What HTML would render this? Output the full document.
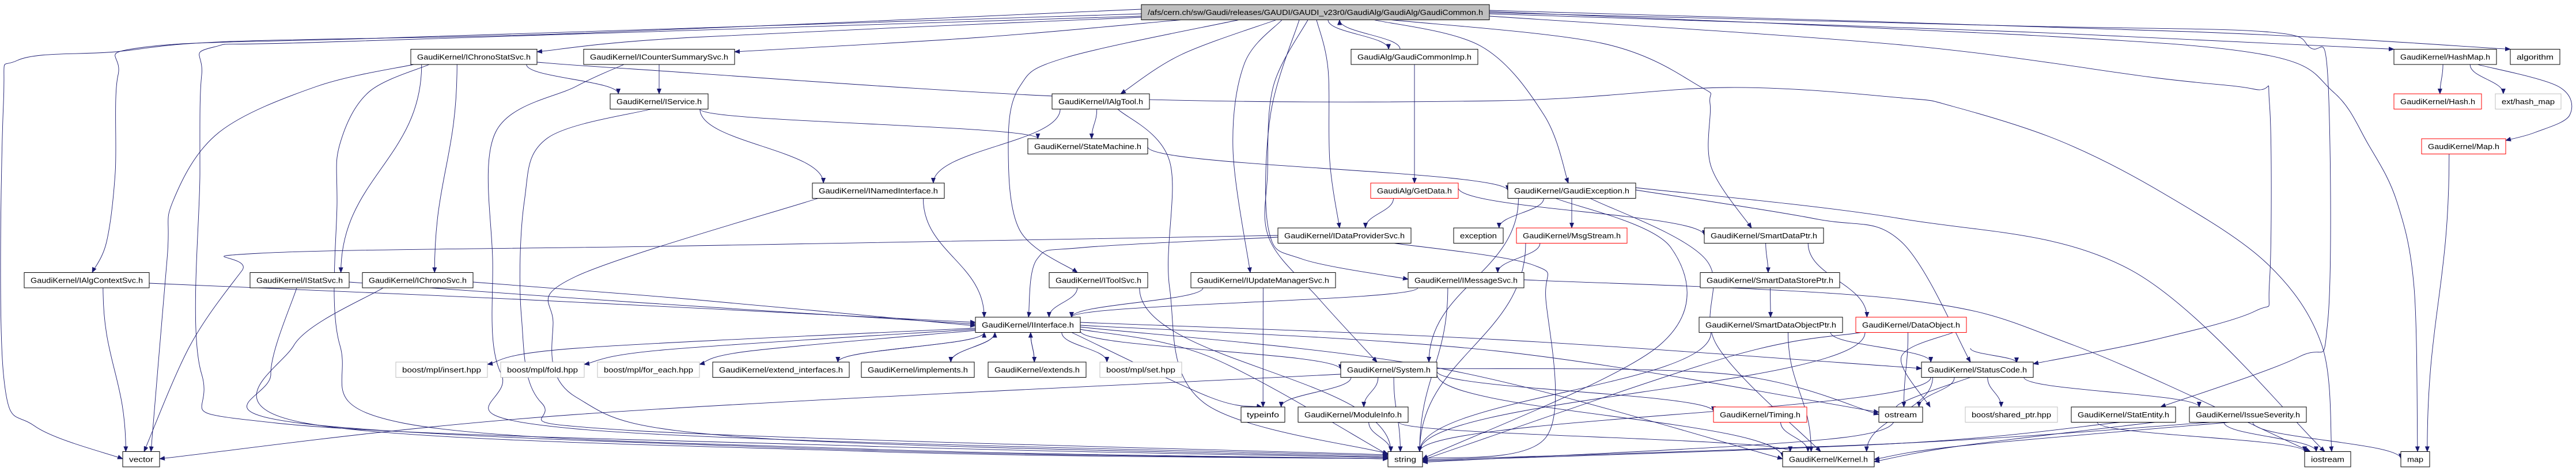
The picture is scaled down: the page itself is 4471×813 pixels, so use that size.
<!DOCTYPE html>
<html><head><meta charset="utf-8"><style>
html,body{margin:0;padding:0;background:#fff}
svg{display:block}
text{font-family:"Liberation Sans",sans-serif;font-size:13px;fill:#000}
</style></head><body>
<svg id="g" width="4471" height="813" viewBox="0 0 4471 813" xmlns="http://www.w3.org/2000/svg">
<defs><marker id="a" markerWidth="10" markerHeight="8" refX="9" refY="4" orient="auto" markerUnits="userSpaceOnUse"><path d="M0,0L10,4L0,8z" fill="#191970"/></marker></defs>
<g id="edges" fill="none" stroke="#191970" stroke-width="0.9"></g>
<g id="nodes">
<rect x="1981" y="8" width="604" height="26.5" fill="#bfbfbf" stroke="#000"/><text x="1992" y="26" textLength="582" lengthAdjust="spacingAndGlyphs">/afs/cern.ch/sw/Gaudi/releases/GAUDI/GAUDI_v23r0/GaudiAlg/GaudiAlg/GaudiCommon.h</text>
<rect x="713" y="85.5" width="219" height="26.5" fill="#fff" stroke="#000"/><text x="724" y="103.5" textLength="197" lengthAdjust="spacingAndGlyphs">GaudiKernel/IChronoStatSvc.h</text>
<rect x="1013" y="85.5" width="262" height="26.5" fill="#fff" stroke="#000"/><text x="1024" y="103.5" textLength="240" lengthAdjust="spacingAndGlyphs">GaudiKernel/ICounterSummarySvc.h</text>
<rect x="2345" y="85.5" width="220" height="26.5" fill="#fff" stroke="#000"/><text x="2356" y="103.5" textLength="198" lengthAdjust="spacingAndGlyphs">GaudiAlg/GaudiCommonImp.h</text>
<rect x="4155" y="85.5" width="178" height="26.5" fill="#fff" stroke="#000"/><text x="4166" y="103.5" textLength="156" lengthAdjust="spacingAndGlyphs">GaudiKernel/HashMap.h</text>
<rect x="4357" y="85.5" width="86" height="26.5" fill="#fff" stroke="#000"/><text x="4368" y="103.5" textLength="64" lengthAdjust="spacingAndGlyphs">algorithm</text>
<rect x="1059" y="163" width="170" height="26.5" fill="#fff" stroke="#000"/><text x="1070" y="181" textLength="148" lengthAdjust="spacingAndGlyphs">GaudiKernel/IService.h</text>
<rect x="1826" y="163" width="169" height="26.5" fill="#fff" stroke="#000"/><text x="1837" y="181" textLength="147" lengthAdjust="spacingAndGlyphs">GaudiKernel/IAlgTool.h</text>
<rect x="4155" y="163" width="152" height="26.5" fill="#fff" stroke="#f00"/><text x="4166" y="181" textLength="130" lengthAdjust="spacingAndGlyphs">GaudiKernel/Hash.h</text>
<rect x="4331" y="163" width="114" height="26.5" fill="#fff" stroke="#bfbfbf"/><text x="4342" y="181" textLength="92" lengthAdjust="spacingAndGlyphs">ext/hash_map</text>
<rect x="1784" y="241" width="208" height="26.5" fill="#fff" stroke="#000"/><text x="1795" y="259" textLength="186" lengthAdjust="spacingAndGlyphs">GaudiKernel/StateMachine.h</text>
<rect x="4203" y="241" width="146" height="26.5" fill="#fff" stroke="#f00"/><text x="4214" y="259" textLength="124" lengthAdjust="spacingAndGlyphs">GaudiKernel/Map.h</text>
<rect x="1410" y="318" width="229" height="26.5" fill="#fff" stroke="#000"/><text x="1421" y="336" textLength="207" lengthAdjust="spacingAndGlyphs">GaudiKernel/INamedInterface.h</text>
<rect x="2379" y="318" width="152" height="26.5" fill="#fff" stroke="#f00"/><text x="2390" y="336" textLength="130" lengthAdjust="spacingAndGlyphs">GaudiAlg/GetData.h</text>
<rect x="2617" y="318" width="222" height="26.5" fill="#fff" stroke="#000"/><text x="2628" y="336" textLength="200" lengthAdjust="spacingAndGlyphs">GaudiKernel/GaudiException.h</text>
<rect x="2218" y="396" width="231" height="26.5" fill="#fff" stroke="#000"/><text x="2229" y="414" textLength="209" lengthAdjust="spacingAndGlyphs">GaudiKernel/IDataProviderSvc.h</text>
<rect x="2523" y="396" width="86" height="26.5" fill="#fff" stroke="#000"/><text x="2534" y="414" textLength="64" lengthAdjust="spacingAndGlyphs">exception</text>
<rect x="2632" y="396" width="192" height="26.5" fill="#fff" stroke="#f00"/><text x="2643" y="414" textLength="170" lengthAdjust="spacingAndGlyphs">GaudiKernel/MsgStream.h</text>
<rect x="2958" y="396" width="207" height="26.5" fill="#fff" stroke="#000"/><text x="2969" y="414" textLength="185" lengthAdjust="spacingAndGlyphs">GaudiKernel/SmartDataPtr.h</text>
<rect x="42" y="473.5" width="217" height="26.5" fill="#fff" stroke="#000"/><text x="53" y="491.5" textLength="195" lengthAdjust="spacingAndGlyphs">GaudiKernel/IAlgContextSvc.h</text>
<rect x="434" y="473.5" width="172" height="26.5" fill="#fff" stroke="#000"/><text x="445" y="491.5" textLength="150" lengthAdjust="spacingAndGlyphs">GaudiKernel/IStatSvc.h</text>
<rect x="629" y="473.5" width="192" height="26.5" fill="#fff" stroke="#000"/><text x="640" y="491.5" textLength="170" lengthAdjust="spacingAndGlyphs">GaudiKernel/IChronoSvc.h</text>
<rect x="1821" y="473.5" width="171" height="26.5" fill="#fff" stroke="#000"/><text x="1832" y="491.5" textLength="149" lengthAdjust="spacingAndGlyphs">GaudiKernel/IToolSvc.h</text>
<rect x="2067" y="473.5" width="251" height="26.5" fill="#fff" stroke="#000"/><text x="2078" y="491.5" textLength="229" lengthAdjust="spacingAndGlyphs">GaudiKernel/IUpdateManagerSvc.h</text>
<rect x="2444" y="473.5" width="201" height="26.5" fill="#fff" stroke="#000"/><text x="2455" y="491.5" textLength="179" lengthAdjust="spacingAndGlyphs">GaudiKernel/IMessageSvc.h</text>
<rect x="2951" y="473.5" width="242" height="26.5" fill="#fff" stroke="#000"/><text x="2962" y="491.5" textLength="220" lengthAdjust="spacingAndGlyphs">GaudiKernel/SmartDataStorePtr.h</text>
<rect x="1693" y="551" width="182" height="26.5" fill="#fff" stroke="#000"/><text x="1704" y="569" textLength="160" lengthAdjust="spacingAndGlyphs">GaudiKernel/IInterface.h</text>
<rect x="2949" y="551" width="249" height="26.5" fill="#fff" stroke="#000"/><text x="2960" y="569" textLength="227" lengthAdjust="spacingAndGlyphs">GaudiKernel/SmartDataObjectPtr.h</text>
<rect x="3221" y="551" width="192" height="26.5" fill="#fff" stroke="#f00"/><text x="3232" y="569" textLength="170" lengthAdjust="spacingAndGlyphs">GaudiKernel/DataObject.h</text>
<rect x="687" y="629" width="159" height="26.5" fill="#fff" stroke="#bfbfbf"/><text x="698" y="647" textLength="137" lengthAdjust="spacingAndGlyphs">boost/mpl/insert.hpp</text>
<rect x="869" y="629" width="145" height="26.5" fill="#fff" stroke="#bfbfbf"/><text x="880" y="647" textLength="123" lengthAdjust="spacingAndGlyphs">boost/mpl/fold.hpp</text>
<rect x="1037" y="629" width="177" height="26.5" fill="#fff" stroke="#bfbfbf"/><text x="1048" y="647" textLength="155" lengthAdjust="spacingAndGlyphs">boost/mpl/for_each.hpp</text>
<rect x="1237" y="629" width="237" height="26.5" fill="#fff" stroke="#000"/><text x="1248" y="647" textLength="215" lengthAdjust="spacingAndGlyphs">GaudiKernel/extend_interfaces.h</text>
<rect x="1495" y="629" width="196" height="26.5" fill="#fff" stroke="#000"/><text x="1506" y="647" textLength="174" lengthAdjust="spacingAndGlyphs">GaudiKernel/implements.h</text>
<rect x="1715" y="629" width="170" height="26.5" fill="#fff" stroke="#000"/><text x="1726" y="647" textLength="148" lengthAdjust="spacingAndGlyphs">GaudiKernel/extends.h</text>
<rect x="1909" y="629" width="142" height="26.5" fill="#fff" stroke="#bfbfbf"/><text x="1920" y="647" textLength="120" lengthAdjust="spacingAndGlyphs">boost/mpl/set.hpp</text>
<rect x="2327" y="629" width="167" height="26.5" fill="#fff" stroke="#000"/><text x="2338" y="647" textLength="145" lengthAdjust="spacingAndGlyphs">GaudiKernel/System.h</text>
<rect x="3335" y="629" width="194" height="26.5" fill="#fff" stroke="#000"/><text x="3346" y="647" textLength="172" lengthAdjust="spacingAndGlyphs">GaudiKernel/StatusCode.h</text>
<rect x="2154" y="707" width="76" height="26.5" fill="#fff" stroke="#000"/><text x="2164" y="725" textLength="56" lengthAdjust="spacingAndGlyphs">typeinfo</text>
<rect x="2253" y="707" width="191" height="26.5" fill="#fff" stroke="#000"/><text x="2264" y="725" textLength="169" lengthAdjust="spacingAndGlyphs">GaudiKernel/ModuleInfo.h</text>
<rect x="2974" y="707" width="162" height="26.5" fill="#fff" stroke="#f00"/><text x="2985" y="725" textLength="140" lengthAdjust="spacingAndGlyphs">GaudiKernel/Timing.h</text>
<rect x="3261" y="707" width="76" height="26.5" fill="#fff" stroke="#000"/><text x="3271" y="725" textLength="56" lengthAdjust="spacingAndGlyphs">ostream</text>
<rect x="3411" y="707" width="160" height="26.5" fill="#fff" stroke="#bfbfbf"/><text x="3422" y="725" textLength="138" lengthAdjust="spacingAndGlyphs">boost/shared_ptr.hpp</text>
<rect x="3595" y="707" width="181" height="26.5" fill="#fff" stroke="#000"/><text x="3606" y="725" textLength="159" lengthAdjust="spacingAndGlyphs">GaudiKernel/StatEntity.h</text>
<rect x="3800" y="707" width="203" height="26.5" fill="#fff" stroke="#000"/><text x="3811" y="725" textLength="181" lengthAdjust="spacingAndGlyphs">GaudiKernel/IssueSeverity.h</text>
<rect x="213" y="784.5" width="64" height="26.5" fill="#fff" stroke="#000"/><text x="224" y="802.5" textLength="42" lengthAdjust="spacingAndGlyphs">vector</text>
<rect x="2409" y="784.5" width="60" height="26.5" fill="#fff" stroke="#000"/><text x="2420" y="802.5" textLength="38" lengthAdjust="spacingAndGlyphs">string</text>
<rect x="3094" y="784.5" width="159" height="26.5" fill="#fff" stroke="#000"/><text x="3105" y="802.5" textLength="137" lengthAdjust="spacingAndGlyphs">GaudiKernel/Kernel.h</text>
<rect x="4000" y="784.5" width="80" height="26.5" fill="#fff" stroke="#000"/><text x="4011" y="802.5" textLength="58" lengthAdjust="spacingAndGlyphs">iostream</text>
<rect x="4167" y="784.5" width="50" height="26.5" fill="#fff" stroke="#000"/><text x="4178" y="802.5" textLength="28" lengthAdjust="spacingAndGlyphs">map</text>
</g>
</svg>
<script>
var H=26.5;
var N={root:[1981,8,604],ICSS:[713,85.5,219],ICSum:[1013,85.5,262],GCI:[2345,85.5,220],HashMap:[4155,85.5,178],algorithm:[4357,85.5,86],
IService:[1059,163,170],IAlgTool:[1826,163,169],Hash:[4155,163,152],ehm:[4331,163,114],SM:[1784,241,208],Map:[4203,241,146],
INI:[1410,318,229],GetData:[2379,318,152],GE:[2617,318,222],IDPS:[2218,396,231],exception:[2523,396,86],MsgStream:[2632,396,192],SDP:[2958,396,207],
IACS:[42,473.5,217],IStatSvc:[434,473.5,172],IChronoSvc:[629,473.5,192],IToolSvc:[1821,473.5,171],IUMS:[2067,473.5,251],IMS:[2444,473.5,201],SDSP:[2951,473.5,242],
II:[1693,551,182],SDOP:[2949,551,249],DO:[3221,551,192],
insert:[687,629,159],fold:[869,629,145],foreach:[1037,629,177],ext:[1237,629,237],impl:[1495,629,196],extends:[1715,629,170],set:[1909,629,142],System:[2327,629,167],SC:[3335,629,194],
typeinfo:[2154,707,76],MI:[2253,707,191],Timing:[2974,707,162],ostream:[3261,707,76],sp:[3411,707,160],SE:[3595,707,181],IS:[3800,707,203],
vector:[213,784.5,64],string:[2409,784.5,60],Kernel:[3094,784.5,159],iostream:[4000,784.5,80],map:[4167,784.5,50]};
function cl(v,m){return Math.max(-m,Math.min(m,v));}
function simple(a,b){var s=N[a],t=N[b];var scx=s[0]+s[2]/2,tcx=t[0]+t[2]/2;
 if(Math.abs(s[1]-t[1])<1){ if(tcx>scx) return [[s[0]+s[2],s[1]+H/2],[t[0],t[1]+H/2]]; return [[s[0],s[1]+H/2],[t[0]+t[2],t[1]+H/2]];}
 var down=t[1]>s[1];
 var sx=scx+cl((tcx-scx)*0.3,s[2]/2.4),tx=tcx+cl((scx-tcx)*0.3,t[2]/2.4);
 var sy=down?s[1]+H:s[1],ty=down?t[1]:t[1]+H;return [[sx,sy],[tx,ty]];}
function path(p){if(p.length==2){var a=p[0],b=p[1],dy=(b[1]-a[1])*0.45;
 return 'M'+a[0]+','+a[1]+' C'+a[0]+','+(a[1]+dy)+' '+b[0]+','+(b[1]-dy)+' '+b[0]+','+b[1];}
 var d='M'+p[0][0]+','+p[0][1];for(var i=0;i<p.length-1;i++){var p0=p[i-1]||p[i],p1=p[i],p2=p[i+1],p3=p[i+2]||p2;
 var c1=[p1[0]+(p2[0]-p0[0])/6,p1[1]+(p2[1]-p0[1])/6],c2=[p2[0]-(p3[0]-p1[0])/6,p2[1]-(p3[1]-p1[1])/6];
 d+=' C'+c1[0]+','+c1[1]+' '+c2[0]+','+c2[1]+' '+p2[0]+','+p2[1];}return d;}
var E=[
[[1981,16],[1000,58],[400,72],[200,90],[30,105],[6,180],[6,650],[60,740],[213,797]],
[[1981,24],[700,65],[250,82],[205,130],[200,300],[185,420],[160,473.5]],
[[1981,28],[600,72],[370,82],[350,130],[347,300],[350,650],[480,735],[1500,775],[2409,795]],
[[1981,30],[1200,65],[932,90]],
[[2050,34.5],[1700,65],[1275,90]],
[[2215,34.5],[2050,95],[1945,163]],
[[2150,34.5],[1850,100],[1770,150],[1750,250],[1770,400],[1870,473.5]],
[[2225,34.5],[2160,110],[2140,260],[2170,473.5]],
[[2285,34.5],[2305,120],[2308,280],[2325,396]],
[[2305,34.5],[2410,85.5]],
[[2430,85.5],[2325,34.5]],
[[2385,34.5],[2570,80],[2680,200],[2722,318]],
[[2415,34.5],[2780,75],[2950,150],[2968,180],[2970,290],[3040,396]],
[[2270,34.5],[2210,150],[2200,300],[2203,415],[2290,520],[2390,629]],
[[2255,34.5],[2205,200],[2202,400],[2260,450],[2444,485]],
[[2585,28],[3300,78],[3740,135],[3913,155],[3939,180],[3939,490],[3915,540],[3740,590],[3529,632]],
[[2585,22],[3500,45],[3930,55],[4010,83],[4040,130],[4040,560],[3990,620],[3750,707]],
[[2585,20],[3500,60],[3930,95],[4050,160],[4110,250],[4160,350],[4190,500],[4196,784.5]],
[[2585,24],[3500,55],[4155,85.5]],
[[2585,18],[3800,55],[4357,85.5]],
[[932,108],[1100,120],[1900,170],[2600,175],[3000,152],[3300,170],[3390,185],[3576,245],[3755,336],[3935,458],[4030,600],[4047,784.5]],
[[718,112],[550,150],[380,230],[300,350],[290,450],[262,784.5]],
[[745,112],[640,160],[590,250],[585,350],[590,600],[700,735],[1500,780],[2409,797]],
[[2218,409],[1200,427],[450,440],[420,470],[330,600],[250,784.5]],
[[2218,412],[1880,430],[1800,450],[1785,551]],
[[2420,422.5],[2660,460],[2683,520],[2683,760],[2469,797]],
[[1083,112],[1000,150],[860,230],[855,450],[870,650],[1000,745],[2409,792]],
[[1130,189.5],[950,240],[910,350],[905,550],[940,700],[1100,748],[2409,790]],
[[1940,189.5],[2030,280],[2030,500],[2090,700],[2409,788]],
[[1420,344.5],[1000,480],[960,560],[1000,690],[1300,760],[2409,794]],
[[259,492],[900,520],[1693,560]],
[[606,490],[1100,525],[1693,563]],
[[821,490],[1200,520],[1693,566]],
[[515,500],[470,650],[520,735],[1500,782],[2409,797]],
[[665,500],[510,600],[530,735],[1500,784],[2409,797]],
[[1693,570],[1000,605],[846,633]],
[[1693,572],[1150,608],[1014,633]],
[[1693,574],[1300,610],[1214,633]],
[[3390,577.5],[3300,620],[3350,707]],
[[3838,733.5],[3300,770],[2469,799]],
[[3870,733.5],[3400,775],[3253,798]],
[[3680,733.5],[3300,770],[2469,801]],
[[3740,733.5],[3400,775],[3253,802]],
[[3420,655.5],[3300,700],[3200,760],[2469,803]],
[[3640,733.5],[4000,784.5]],[[3860,733.5],[4020,784.5]],[[3910,733.5],[4167,797]],
[[2839,326],[3300,380],[3700,470],[4035,784.5]],
[[2839,330],[3150,380],[3300,420],[3420,629]],
[[2700,344.5],[2900,430],[2880,600],[2469,797]],
[[2760,344.5],[2960,450],[2980,600],[3160,784.5]],
[[2645,486],[3300,520],[3600,600],[4010,784.5]],
[[3230,577.5],[3000,620],[2469,799]],
[[3420,605],[3500,630]],
[[2494,640],[3000,650],[3261,720]],
[[1992,255],[2617,331]],
[[2531,326],[2958,409]],
[[1875,560],[2600,590],[3335,640]],
[[1875,565],[2600,610],[3261,716]],
[[1875,568],[2500,640],[3094,797]],
[[1875,572],[2100,620],[2409,790]],
[[1875,575],[2327,642]],
[[1860,577.5],[2100,690],[2190,707]],
[[2494,650],[3094,795]],
[[2494,645],[2974,715]],
[[2327,650],[1000,720],[277,797]]
];
var S=[['ICSum','IService'],['ICSS','IService'],['ICSS','IStatSvc'],['ICSS','IChronoSvc'],['IService','INI'],['IService','SM'],['IAlgTool','INI'],['IAlgTool','SM'],
['INI','II'],['GCI','GetData'],['GetData','IDPS'],['GE','exception'],['GE','MsgStream'],['GE','System'],['MsgStream','IMS'],['MsgStream','string'],
['SDP','SDSP'],['SDP','DO'],['SDSP','SDOP'],['SDOP','string'],['SDOP','Kernel'],['SDOP','SC'],['DO','ostream'],['DO','string'],
['IACS','vector'],['IToolSvc','II'],['IToolSvc','string'],
['IUMS','II'],['IUMS','typeinfo'],['IMS','II'],['IMS','string'],
['II','ext'],['II','impl'],['II','extends'],['II','set'],
['ext','II'],['impl','II'],['extends','II'],['System','typeinfo'],['System','MI'],['System','string'],['MI','string'],['MI','Kernel'],['Timing','Kernel'],
['SC','ostream'],['SC','sp'],['SC','IS'],['SC','string'],['SC','Kernel'],['HashMap','Hash'],['HashMap','ehm'],['Map','map']];
var g=document.getElementById('edges'),out='';
E.forEach(function(p){out+='<path d="'+path(p)+'" marker-end="url(#a)"/>';});
S.forEach(function(s){out+='<path d="'+path(simple(s[0],s[1]))+'" marker-end="url(#a)"/>';});
out+='<path d="'+path([[4300,112],[4440,150],[4460,200],[4400,230],[4349,244]])+'" marker-end="url(#a)"/>';
g.innerHTML=out;
</script>
</body></html>
